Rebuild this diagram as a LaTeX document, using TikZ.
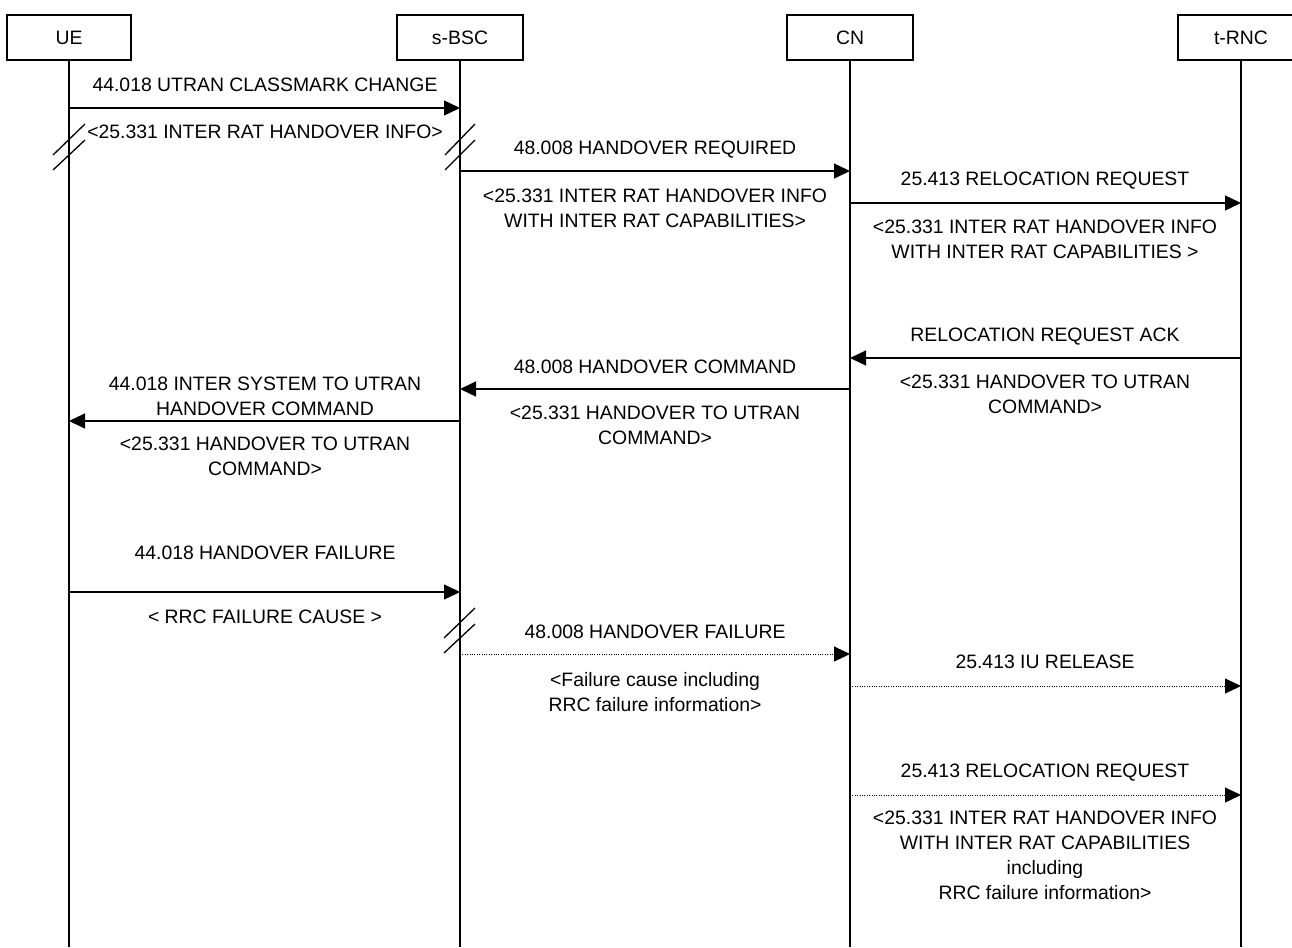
\documentclass[tikz,border=0pt]{standalone}
\usepackage{fontspec}
\setmainfont{Liberation Sans}
\usetikzlibrary{arrows.meta}
\begin{document}
\begin{tikzpicture}[x=1pt,y=-1pt,
  ent/.style={draw, line width=1.3pt, minimum height=45pt, inner sep=0pt, font=\fontsize{19.4}{25}\selectfont},
  life/.style={line width=1.3pt},
  msg/.style={line width=1.3pt, -{Triangle[length=16pt,width=15pt]}},
  dmsg/.style={line width=1pt, dash pattern=on 1pt off 1.4pt, -{Triangle[length=16pt,width=15pt]}},
  lbl/.style={font=\fontsize{19.4}{25}\selectfont, align=center, inner sep=0pt, anchor=north},
  brk/.style={line width=1.3pt}
]
\useasboundingbox (0,0) rectangle (1292,947);
\clip (0,0) rectangle (1292,947);
% entities
\node[ent, minimum width=124pt] (ue)  at (69,37.5)   {UE};
\node[ent, minimum width=126pt] (bsc) at (460,37.5)  {s-BSC};
\node[ent, minimum width=126pt] (cn)  at (850,37.5)  {CN};
\node[ent, minimum width=126pt] (rnc) at (1241,37.5) {t-RNC};
% lifeline ends
\coordinate (ueE)  at (ue.south  |- 0,947);
\coordinate (bscE) at (bsc.south |- 0,947);
\coordinate (cnE)  at (cn.south  |- 0,947);
\coordinate (rncE) at (rnc.south |- 0,947);
\draw[life] (ue.south) -- (ueE);
\draw[life] (bsc.south) -- (bscE);
\draw[life] (cn.south) -- (cnE);
\draw[life] (rnc.south) -- (rncE);

% message 1
\coordinate (m1a) at (ue.south |- 0,108);
\coordinate (m1b) at (bsc.south |- 0,108);
\draw[msg] (m1a) -- (m1b);
\node[lbl] (l1a) at (265,78) {44.018 UTRAN CLASSMARK CHANGE};
\node[lbl] (l1b) at (265,125) {<25.331 INTER RAT HANDOVER INFO>};
\draw[brk] (53,155) -- (85,124);
\draw[brk] (53,170) -- (85,140);
\draw[brk] (445,155) -- (475,124);
\draw[brk] (445,170) -- (475,140);

% message 2
\coordinate (m2a) at (bsc.south |- 0,171);
\coordinate (m2b) at (cn.south |- 0,171);
\draw[msg] (m2a) -- (m2b);
\node[lbl] (l2a) at (655,141) {48.008 HANDOVER REQUIRED};
\node[lbl] (l2b) at (655,189) {<25.331 INTER RAT HANDOVER INFO\\WITH INTER RAT CAPABILITIES>};

% message 3
\coordinate (m3a) at (cn.south |- 0,203);
\coordinate (m3b) at (rnc.south |- 0,203);
\draw[msg] (m3a) -- (m3b);
\node[lbl] (l3a) at (1045,172) {25.413 RELOCATION REQUEST};
\node[lbl] (l3b) at (1045,220) {<25.331 INTER RAT HANDOVER INFO\\WITH INTER RAT CAPABILITIES >};

% message 4
\coordinate (m4a) at (rnc.south |- 0,358);
\coordinate (m4b) at (cn.south |- 0,358);
\draw[msg] (m4a) -- (m4b);
\node[lbl] (l4a) at (1045,328) {RELOCATION REQUEST ACK};
\node[lbl] (l4b) at (1045,375) {<25.331 HANDOVER TO UTRAN\\COMMAND>};

% message 5
\coordinate (m5a) at (cn.south |- 0,389);
\coordinate (m5b) at (bsc.south |- 0,389);
\draw[msg] (m5a) -- (m5b);
\node[lbl] (l5a) at (655,360) {48.008 HANDOVER COMMAND};
\node[lbl] (l5b) at (655,406) {<25.331 HANDOVER TO UTRAN\\COMMAND>};

% message 6
\coordinate (m6a) at (bsc.south |- 0,421);
\coordinate (m6b) at (ue.south |- 0,421);
\draw[msg] (m6a) -- (m6b);
\node[lbl] (l6a) at (265,377) {44.018 INTER SYSTEM TO UTRAN\\HANDOVER COMMAND};
\node[lbl] (l6b) at (265,437) {<25.331 HANDOVER TO UTRAN\\COMMAND>};

% message 7
\coordinate (m7a) at (ue.south |- 0,592);
\coordinate (m7b) at (bsc.south |- 0,592);
\draw[msg] (m7a) -- (m7b);
\node[lbl] (l7a) at (265,546) {44.018 HANDOVER FAILURE};
\node[lbl] (l7b) at (265,610) {< RRC FAILURE CAUSE >};
\draw[brk] (444,638) -- (475,608);
\draw[brk] (444,653) -- (475,624);

% message 8
\coordinate (m8a) at (bsc.south |- 0,654);
\coordinate (m8b) at (cn.south |- 0,654);
\draw[dmsg] (m8a) -- (m8b);
\node[lbl] (l8a) at (655,625) {48.008 HANDOVER FAILURE};
\node[lbl] (l8b) at (655,672) {<Failure cause including\\RRC failure information>};

% message 9
\coordinate (m9a) at (cn.south |- 0,686);
\coordinate (m9b) at (rnc.south |- 0,686);
\draw[dmsg] (m9a) -- (m9b);
\node[lbl] (l9a) at (1045,655) {25.413 IU RELEASE};

% message 10
\coordinate (m10a) at (cn.south |- 0,795);
\coordinate (m10b) at (rnc.south |- 0,795);
\draw[dmsg] (m10a) -- (m10b);
\node[lbl] (l10a) at (1045,764) {25.413 RELOCATION REQUEST};
\node[lbl] (l10b) at (1045,811) {<25.331 INTER RAT HANDOVER INFO\\WITH INTER RAT CAPABILITIES\\including\\RRC failure information>};
\end{tikzpicture}
\end{document}
